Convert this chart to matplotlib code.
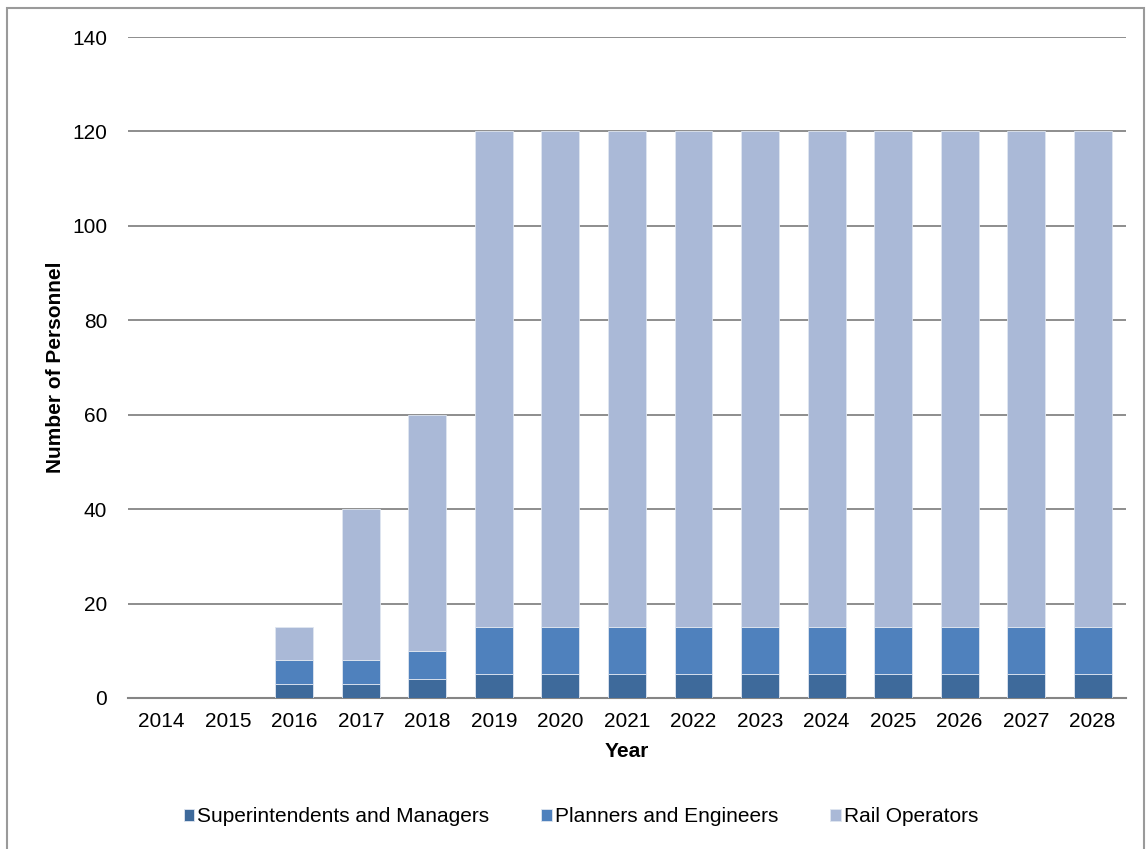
import matplotlib.pyplot as plt
import numpy as np
from matplotlib.patches import Rectangle

plt.rcParams['font.family'] = ['Liberation Sans', 'DejaVu Sans']

years = [str(y) for y in range(2014, 2029)]
supers = [0, 0, 3, 3, 4, 5, 5, 5, 5, 5, 5, 5, 5, 5, 5]
planners = [0, 0, 5, 5, 6, 10, 10, 10, 10, 10, 10, 10, 10, 10, 10]
operators = [0, 0, 7, 32, 50, 105, 105, 105, 105, 105, 105, 105, 105, 105, 105]

series = [
    ('Superintendents and Managers', supers, '#3E6A9B'),
    ('Planners and Engineers', planners, '#4F81BD'),
    ('Rail Operators', operators, '#AAB9D7'),
]

fig = plt.figure(figsize=(11.46, 8.49), dpi=100)
ax = fig.add_axes([0.1117, 0.1779, 0.8708, 0.7785])

x = np.arange(len(years))
bottom = np.zeros(len(years))
for name, vals, col in series:
    vals = np.array(vals, dtype=float)
    ax.bar(x, vals, 0.57, bottom=bottom, color=col, label=name,
           edgecolor='#dfe6f0', linewidth=0.6, zorder=3)
    bottom += vals

ax.set_xlim(-0.5, len(years) - 0.5)
ax.set_ylim(0, 140)
ax.set_yticks(np.arange(0, 141, 20))
ax.set_xticks(x)
ax.set_xticklabels(years)
ax.yaxis.grid(True, color='#858585', linewidth=1.3, zorder=0)
ax.tick_params(axis='both', length=0, labelsize=15)
ax.tick_params(axis='x', pad=10)
ax.tick_params(axis='y', pad=15)
for s in ['top', 'right', 'left']:
    ax.spines[s].set_visible(False)
ax.spines['bottom'].set_color('#858585')
ax.spines['bottom'].set_linewidth(1.5)

ax.set_xlabel('Year', fontsize=15, fontweight='bold', labelpad=8)
ax.set_ylabel('Number of Personnel', fontsize=15, fontweight='bold', labelpad=5)

fig.legend(loc='center', bbox_to_anchor=(0.507, 0.038), ncol=3, frameon=False,
           fontsize=15, handlelength=0.5, handleheight=0.5, handletextpad=0.15,
           columnspacing=2.5)

fig.patches.append(Rectangle((7 / 1146, -0.01), 1137 / 1146, 1 - 8 / 849 + 0.01,
                             transform=fig.transFigure, fill=False,
                             edgecolor='#9a9a9a', linewidth=1.5))

fig.savefig('out.png', dpi=100)
